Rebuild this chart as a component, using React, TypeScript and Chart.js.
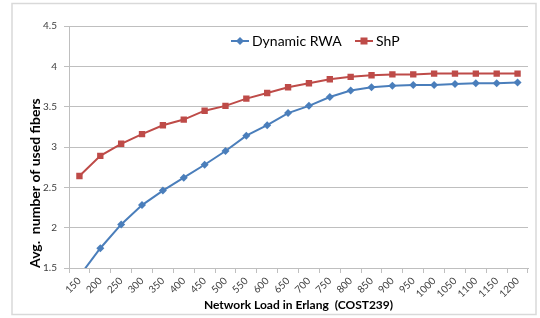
import React, { useEffect, useRef } from "react";
import { Chart, registerables } from "chart.js";

Chart.register(...registerables);

const categories = [
  "150", "200", "250", "300", "350", "400", "450", "500", "550", "600", "650",
  "700", "750", "800", "850", "900", "950", "1000", "1050", "1100", "1150", "1200",
];
const dynamicRWA = [
  1.4, 1.745, 2.04, 2.28, 2.46, 2.62, 2.78, 2.95, 3.14, 3.27, 3.42,
  3.51, 3.62, 3.7, 3.74, 3.76, 3.77, 3.77, 3.78, 3.79, 3.79, 3.8,
];
const shp = [
  2.64, 2.89, 3.04, 3.16, 3.27, 3.34, 3.45, 3.51, 3.6, 3.67, 3.74,
  3.79, 3.84, 3.87, 3.89, 3.9, 3.9, 3.91, 3.91, 3.91, 3.91, 3.91,
];
const seriesNames = ["Dynamic RWA", "ShP"];
const yTitle = "Avg.  number of used fibers";
const xTitle = "Network Load in Erlang  (COST239)";

const BLUE = "#4a7ebb";
const RED = "#be4b48";
const FONT = "Lato, 'Open Sans', sans-serif";

const framePlugin = {
  id: "frame",
  beforeDraw(chart: any) {
    const ctx = chart.ctx;
    ctx.save();
    ctx.fillStyle = "#ffffff";
    ctx.fillRect(0, 0, chart.width, chart.height);
    ctx.strokeStyle = "#d9d9d9";
    ctx.lineWidth = 1.5;
    ctx.strokeRect(12, 3.5, 524, 311);
    ctx.restore();
  },
};

const legendPlugin = {
  id: "customLegend",
  afterDraw(chart: any) {
    const ctx = chart.ctx;
    const y = 41;
    const items = [
      { x: 231, label: seriesNames[0], color: BLUE, style: "diamond" },
      { x: 355, label: seriesNames[1], color: RED, style: "square" },
    ];
    ctx.save();
    ctx.font = `14px ${FONT}`;
    ctx.textBaseline = "middle";
    items.forEach((it) => {
      ctx.strokeStyle = it.color;
      ctx.lineWidth = 2;
      ctx.beginPath();
      ctx.moveTo(it.x, y);
      ctx.lineTo(it.x + 18, y);
      ctx.stroke();
      ctx.fillStyle = it.color;
      const cx = it.x + 9;
      if (it.style === "diamond") {
        ctx.beginPath();
        ctx.moveTo(cx, y - 4);
        ctx.lineTo(cx + 4, y);
        ctx.lineTo(cx, y + 4);
        ctx.lineTo(cx - 4, y);
        ctx.closePath();
        ctx.fill();
      } else {
        ctx.fillRect(cx - 3.5, y - 3.5, 7, 7);
      }
      ctx.fillStyle = "#000000";
      ctx.textAlign = "left";
      ctx.fillText(it.label, it.x + 21, y);
    });
    ctx.restore();
  },
};

export default function App() {
  const canvasRef = useRef<HTMLCanvasElement | null>(null);

  useEffect(() => {
    if (!canvasRef.current) return;
    const chart = new Chart(canvasRef.current, {
      type: "line",
      data: {
        labels: categories,
        datasets: [
          {
            label: seriesNames[0],
            data: dynamicRWA,
            borderColor: BLUE,
            backgroundColor: BLUE,
            borderWidth: 2,
            pointStyle: "rectRot",
            pointRadius: 4,
            pointBorderWidth: 0,
            tension: 0,
          },
          {
            label: seriesNames[1],
            data: shp,
            borderColor: RED,
            backgroundColor: RED,
            borderWidth: 2,
            pointStyle: "rect",
            pointRadius: 4.5,
            pointBorderWidth: 0,
            tension: 0,
          },
        ],
      },
      options: {
        animation: false,
        responsive: false,
        maintainAspectRatio: false,
        layout: { padding: { left: 0, top: 26, right: 12, bottom: 0 } },
        plugins: {
          legend: { display: false },
          tooltip: { enabled: false },
        },
        scales: {
          x: {
            type: "category",
            offset: true,
            grid: {
              offset: true,
              drawOnChartArea: false,
              drawTicks: true,
              tickLength: 5,
              color: "#bfbfbf",
            },
            border: { display: true, color: "#bfbfbf" },
            ticks: {
              autoSkip: false,
              minRotation: 45,
              maxRotation: 45,
              padding: 2,
              color: "#404040",
              font: { family: FONT, size: 10 },
            },
            title: {
              display: true,
              text: xTitle,
              color: "#000000",
              font: { family: FONT, size: 12, weight: "bold" },
              padding: { top: 0, bottom: 6 },
            },
            afterFit(scale: any) {
              scale.height = 50;
            },
          },
          y: {
            min: 1.5,
            max: 4.5,
            ticks: {
              stepSize: 0.5,
              padding: 7,
              color: "#404040",
              font: { family: FONT, size: 10 },
              callback: (value: any) => `${Number(value)}`,
            },
            grid: {
              color: "#bfbfbf",
              tickLength: 5,
              drawTicks: true,
            },
            border: { display: true, color: "#bfbfbf" },
            title: {
              display: true,
              text: yTitle,
              align: "start",
              color: "#000000",
              font: { family: FONT, size: 14, weight: "bold" },
              padding: { top: 27, bottom: 0 },
            },
            afterFit(scale: any) {
              scale.width = 69;
            },
          },
        },
      },
      plugins: [framePlugin, legendPlugin],
    } as any);
    return () => chart.destroy();
  }, []);

  return (
    <div style={{ position: "fixed", left: 0, top: 0, width: 540, height: 318 }}>
      <canvas ref={canvasRef} width={540} height={318} style={{ width: 540, height: 318 }} />
    </div>
  );
}
